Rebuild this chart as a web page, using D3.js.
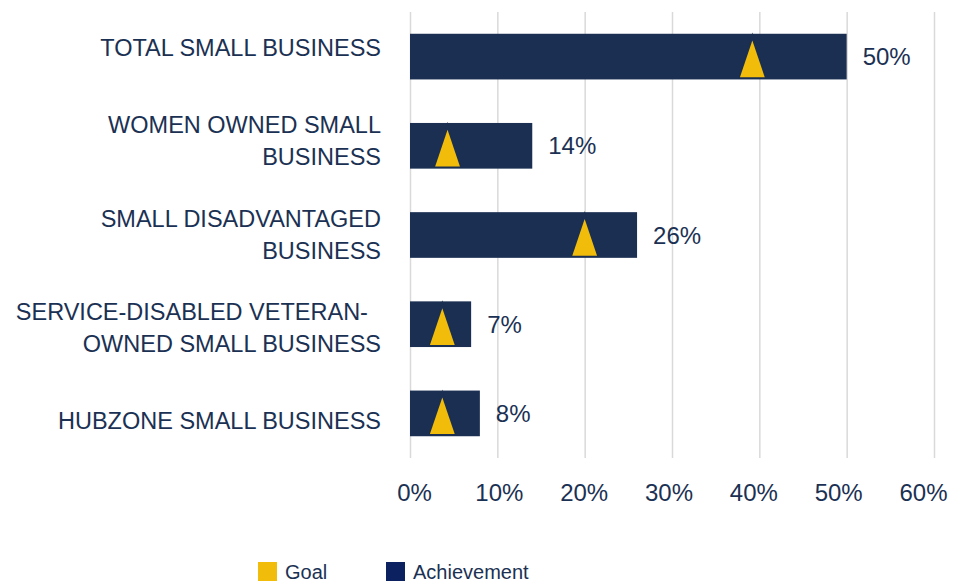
<!DOCTYPE html>
<html>
<head>
<meta charset="utf-8">
<script src="https://cdn.jsdelivr.net/npm/d3@7"></script>
<style>
  body { margin: 0; background: #fff; }
  svg { display: block; font-family: "Liberation Sans", Arial, sans-serif; }
</style>
</head>
<body>
<svg id="chart" width="966" height="582"></svg>
<script>
const categories = [
  "TOTAL SMALL BUSINESS",
  "WOMEN OWNED SMALL\nBUSINESS",
  "SMALL DISADVANTAGED\nBUSINESS",
  "SERVICE-DISABLED VETERAN-  \nOWNED SMALL BUSINESS",
  "HUBZONE SMALL BUSINESS"
];
const achievement = [0.50, 0.14, 0.26, 0.07, 0.08];
const goal = [0.392, 0.043, 0.20, 0.037, 0.037];
const xTicks = [0, 0.1, 0.2, 0.3, 0.4, 0.5, 0.6];
const legendItems = ["Goal", "Achievement"];

const navy = "#1a2f52";
const textColor = "#1b3153";
const gold = "#f2bd0a";
const legendNavy = "#0b2160";

const svg = d3.select("#chart");
const margin = { top: 12, left: 410, right: 32, bottom: 124 };
const width = 966 - margin.left - margin.right;
const height = 582 - margin.top - margin.bottom;

const g = svg.append("g").attr("transform", `translate(${margin.left},${margin.top})`);

const x = d3.scaleLinear().domain([0, 0.6]).range([0, width]);
const y = d3.scaleBand()
  .domain(categories)
  .range([0, height])
  .paddingInner(0.488)
  .paddingOuter(0.244);

// the text labels in the original sit on a slightly different spacing than the marks
const xLabel = d3.scaleLinear().domain([0, 0.6]).range([4, width - 11]);
const yLabel = d3.scalePoint().domain(categories).range([35, height - 37.5]);

// gridlines
const grid = g.append("g")
  .attr("transform", `translate(0,${height})`)
  .call(d3.axisBottom(x).tickValues(xTicks).tickSize(-height).tickFormat(""));
grid.select(".domain").remove();
grid.selectAll("line").attr("stroke", "#d9d9d9").attr("stroke-width", 1.5);

// bars
g.selectAll("rect.bar")
  .data(categories)
  .enter()
  .append("rect")
  .attr("class", "bar")
  .attr("x", x(0))
  .attr("y", d => y(d))
  .attr("width", (d, i) => x(achievement[i]) - x(0))
  .attr("height", y.bandwidth())
  .attr("fill", navy);

// goal markers: dark outline triangle behind yellow triangle
function tri(cx, cy, up, down, half) {
  return `M${cx},${cy - up}L${cx + half},${cy + down}L${cx - half},${cy + down}Z`;
}

const markers = g.selectAll("g.goal")
  .data(categories)
  .enter()
  .append("g")
  .attr("class", "goal");

markers.append("path")
  .attr("d", (d, i) => tri(x(goal[i]), y(d) + y.bandwidth() / 2, 24, 22, 14))
  .attr("fill", navy);

markers.append("path")
  .attr("d", (d, i) => tri(x(goal[i]), y(d) + y.bandwidth() / 2, 16, 20.7, 12.4))
  .attr("fill", gold);

// value labels
g.selectAll("text.value")
  .data(categories)
  .enter()
  .append("text")
  .attr("class", "value")
  .attr("x", (d, i) => x(achievement[i]) + 16)
  .attr("y", d => y(d) + y.bandwidth() / 2)
  .attr("dy", "0.36em")
  .attr("fill", textColor)
  .style("font-size", "24px")
  .text((d, i) => d3.format(".0%")(achievement[i]));

// x axis labels
const xAxis = g.append("g")
  .attr("transform", `translate(0,${height})`)
  .call(d3.axisBottom(xLabel).tickValues(xTicks).tickSize(0).tickPadding(26).tickFormat(d3.format(".0%")));
xAxis.select(".domain").remove();
xAxis.selectAll("text")
  .attr("fill", textColor)
  .style("font-size", "24px")
  .style("font-family", "'Liberation Sans', Arial, sans-serif");

// category labels
const yAxis = g.append("g")
  .call(d3.axisLeft(yLabel).tickSize(0).tickPadding(29));
yAxis.select(".domain").remove();
yAxis.selectAll("text").each(function (d) {
  const t = d3.select(this);
  const lines = d.split("\n");
  const lh = 1.36;
  t.text(null)
    .attr("dy", null)
    .attr("fill", textColor)
    .style("font-size", "23.5px")
    .style("font-family", "'Liberation Sans', Arial, sans-serif")
    .style("white-space", "pre");
  lines.forEach((line, k) => {
    t.append("tspan")
      .attr("x", t.attr("x"))
      .attr("dy", k === 0 ? `${0.36 - (lines.length - 1) * lh / 2}em` : `${lh}em`)
      .text(line);
  });
});

// legend
const legendColors = [gold, legendNavy];
const legendX = [258, 386];
const legend = svg.append("g");
legendItems.forEach((name, i) => {
  legend.append("rect")
    .attr("x", legendX[i])
    .attr("y", 562)
    .attr("width", 19)
    .attr("height", 19)
    .attr("fill", legendColors[i]);
  legend.append("text")
    .attr("x", legendX[i] + 27)
    .attr("y", 572)
    .attr("dy", "0.36em")
    .attr("fill", textColor)
    .style("font-size", "20px")
    .text(name);
});
</script>
</body>
</html>
